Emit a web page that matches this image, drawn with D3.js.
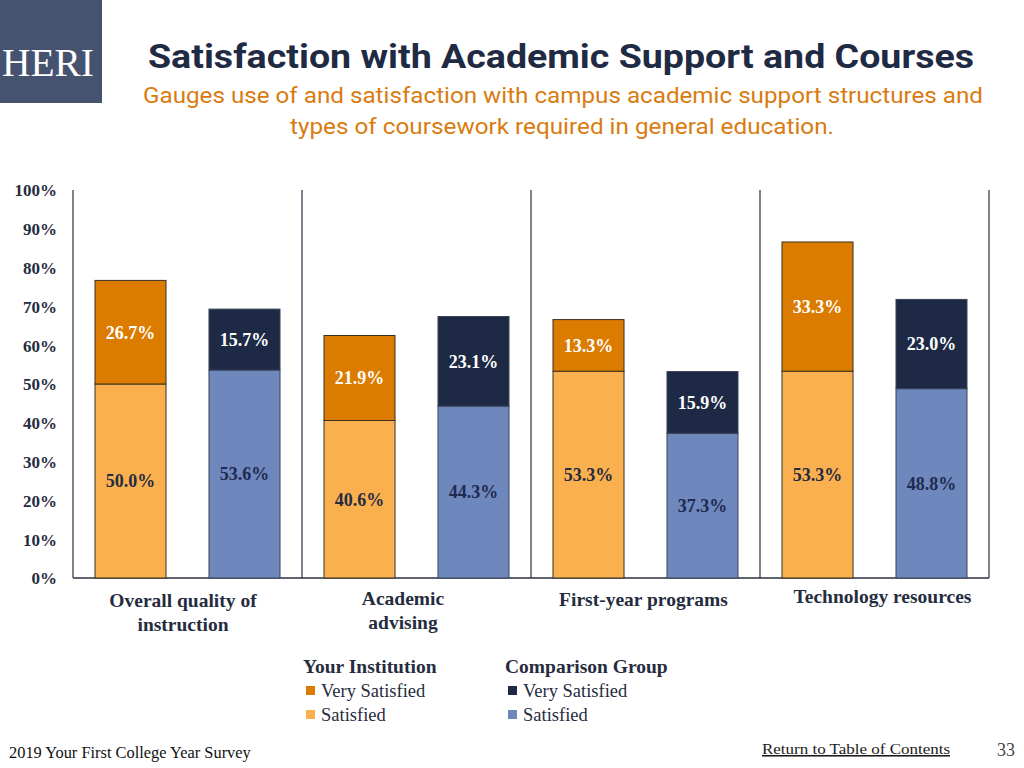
<!DOCTYPE html>
<html>
<head>
<meta charset="utf-8">
<script src="https://cdn.jsdelivr.net/npm/d3@7"></script>
<style>
  html, body { margin: 0; padding: 0; background: #fff; }
  svg { display: block; }
</style>
</head>
<body>
<svg id="chart" width="1024" height="768"></svg>
<script>
// ---- data ----
const categories = ["Overall quality of\ninstruction", "Academic\nadvising", "First-year programs", "Technology resources"];
const instSatisfied = [50.0, 40.6, 53.3, 53.3];
const instVerySatisfied = [26.7, 21.9, 13.3, 33.3];
const compSatisfied = [53.6, 44.3, 37.3, 48.8];
const compVerySatisfied = [15.7, 23.1, 15.9, 23.0];
const groups = ["Your Institution", "Comparison Group"];
const levels = ["Very Satisfied", "Satisfied"];
const yTicks = [0, 10, 20, 30, 40, 50, 60, 70, 80, 90, 100];

// ---- styles ----
const C = {
  instVery: "#DB7B00", instSat: "#FBB04F",
  compVery: "#1E2A45", compSat: "#6E87BD",
  navy: "#1F2A44", text: "#262C40", orange: "#D97B10", logo: "#465370"
};
const serif = "'Liberation Serif', 'Times New Roman', serif";
const sans = "'Liberation Sans Narrow', Roboto, 'Liberation Sans', sans-serif";
const labelDx = [-4.5, -13.5, -2, 8];
const labelY = [607, 605, 606, 603];

const svg = d3.select("#chart");

// ---- header ----
svg.append("rect").attr("x", 0).attr("y", 0).attr("width", 102).attr("height", 103).attr("fill", C.logo);
svg.append("text").attr("x", 2).attr("y", 76).attr("font-family", serif).attr("font-size", 40)
  .attr("fill", "#fff").attr("textLength", 92).attr("lengthAdjust", "spacingAndGlyphs").text("HERI");

svg.append("text").attr("x", 561).attr("y", 68).attr("text-anchor", "middle")
  .attr("font-family", sans).attr("font-weight", "bold").attr("font-size", 34).attr("fill", C.navy)
  .attr("textLength", 826).attr("lengthAdjust", "spacingAndGlyphs")
  .text("Satisfaction with Academic Support and Courses");
svg.append("text").attr("x", 563).attr("y", 103).attr("text-anchor", "middle")
  .attr("font-family", sans).attr("font-size", 22).attr("fill", C.orange)
  .attr("textLength", 840).attr("lengthAdjust", "spacingAndGlyphs")
  .text("Gauges use of and satisfaction with campus academic support structures and");
svg.append("text").attr("x", 562).attr("y", 134).attr("text-anchor", "middle")
  .attr("font-family", sans).attr("font-size", 22).attr("fill", C.orange)
  .attr("textLength", 544).attr("lengthAdjust", "spacingAndGlyphs")
  .text("types of coursework required in general education.");

// ---- scales ----
const x0 = d3.scaleBand().domain(d3.range(categories.length)).range([73, 989]).padding(0);
const x1 = d3.scaleBand().domain(groups).range([0, x0.bandwidth()]).paddingInner(0.377).paddingOuter(0.193);
const y = d3.scaleLinear().domain([0, 100]).range([578, 190]);

// ---- axis ----
const yAxis = d3.axisLeft(y).tickValues(yTicks).tickFormat(d => d + "%").tickSize(0).tickPadding(16);
const ya = svg.append("g").attr("transform", "translate(73,0)").call(yAxis);
ya.select(".domain").remove();
ya.selectAll("text").attr("font-family", serif).attr("font-weight", "bold").attr("font-size", 17)
  .attr("fill", C.text).attr("dy", "0.35em");

// separators + frame lines
const sepX = d3.range(categories.length).map(i => x0(i)).concat([x0.range()[1]]);
svg.append("g").selectAll("line").data(sepX).join("line")
  .attr("x1", d => d).attr("x2", d => d).attr("y1", y(100)).attr("y2", y(0))
  .attr("stroke", "#2B3040").attr("stroke-width", 1.2);
svg.append("line").attr("x1", 73).attr("x2", 989).attr("y1", y(0)).attr("y2", y(0))
  .attr("stroke", "#2B3040").attr("stroke-width", 1.5);

// ---- bars ----
const segs = [];
categories.forEach((c, i) => {
  segs.push({ i, g: groups[0], y0: 0, y1: instSatisfied[i], v: instSatisfied[i], fill: C.instSat, tc: C.text });
  segs.push({ i, g: groups[0], y0: instSatisfied[i], y1: instSatisfied[i] + instVerySatisfied[i], v: instVerySatisfied[i], fill: C.instVery, tc: "#fff" });
  segs.push({ i, g: groups[1], y0: 0, y1: compSatisfied[i], v: compSatisfied[i], fill: C.compSat, tc: "#1F2A50" });
  segs.push({ i, g: groups[1], y0: compSatisfied[i], y1: compSatisfied[i] + compVerySatisfied[i], v: compVerySatisfied[i], fill: C.compVery, tc: "#fff" });
});

const bars = svg.append("g");
bars.selectAll("rect").data(segs).join("rect")
  .attr("x", d => x0(d.i) + x1(d.g))
  .attr("y", d => y(d.y1))
  .attr("width", x1.bandwidth())
  .attr("height", d => y(d.y0) - y(d.y1))
  .attr("fill", d => d.fill)
  .attr("stroke", d => d.g === groups[0] ? "#3A3020" : "#3A4258")
  .attr("stroke-width", 1);

bars.selectAll("text").data(segs).join("text")
  .attr("x", d => x0(d.i) + x1(d.g) + x1.bandwidth() / 2)
  .attr("y", d => y((d.y0 + d.y1) / 2))
  .attr("dy", "0.35em")
  .attr("text-anchor", "middle")
  .attr("font-family", serif).attr("font-weight", "bold").attr("font-size", 18)
  .attr("fill", d => d.tc)
  .text(d => d.v.toFixed(1) + "%");

// ---- category labels ----
const catG = svg.append("g");
categories.forEach((c, i) => {
  const lines = c.split("\n");
  const cx = x0(i) + x0.bandwidth() / 2 + labelDx[i];
  const t = catG.append("text")
    .attr("x", cx)
    .attr("y", labelY[i])
    .attr("text-anchor", "middle")
    .attr("font-family", serif).attr("font-weight", "bold").attr("font-size", 19.5).attr("fill", C.text);
  lines.forEach((l, k) => t.append("tspan").attr("x", cx).attr("dy", k ? 24 : 0).text(l));
});

// ---- legend ----
const legendX = [303, 505];
const legendColors = [[C.instVery, C.instSat], [C.compVery, C.compSat]];
groups.forEach((g, gi) => {
  const lg = svg.append("g").attr("transform", `translate(${legendX[gi]},0)`);
  lg.append("text").attr("x", 0).attr("y", 673).attr("font-family", serif).attr("font-weight", "bold")
    .attr("font-size", 19.5).attr("fill", C.text).text(g);
  levels.forEach((lv, li) => {
    lg.append("rect").attr("x", 3).attr("y", 686 + li * 24).attr("width", 9).attr("height", 9)
      .attr("fill", legendColors[gi][li]);
    lg.append("text").attr("x", 18).attr("y", 697 + li * 24).attr("font-family", serif)
      .attr("font-size", 18.5).attr("fill", C.text).text(lv);
  });
});

// ---- footer ----
svg.append("text").attr("x", 9).attr("y", 758).attr("font-family", serif).attr("font-size", 16.4)
  .attr("fill", "#111").text("2019 Your First College Year Survey");
svg.append("text").attr("x", 762).attr("y", 754).attr("font-family", serif).attr("font-size", 15.5)
  .attr("fill", "#1a1a1a").attr("text-decoration", "underline")
  .attr("textLength", 188).attr("lengthAdjust", "spacingAndGlyphs").text("Return to Table of Contents");
svg.append("text").attr("x", 997).attr("y", 756).attr("font-family", serif).attr("font-size", 18)
  .attr("fill", "#444").text("33");
</script>
</body>
</html>
